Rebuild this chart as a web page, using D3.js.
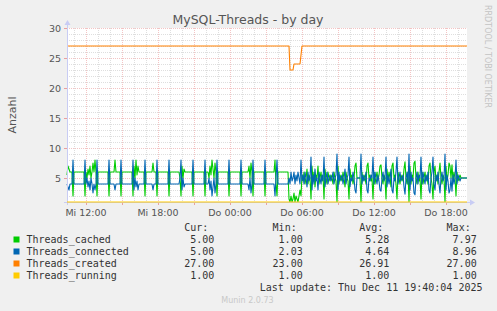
<!DOCTYPE html>
<html lang="en">
<head>
  <meta charset="UTF-8">
  <title>MySQL-Threads - by day</title>
  <script src="https://d3js.org/d3.v7.min.js"></script>
  <style>
    body { margin: 0; background: #f0f0f0; }
    svg { display: block; }
    text { font-family: "DejaVu Sans", sans-serif; }
    .mono { font-family: "DejaVu Sans Mono", monospace; font-size: 10px; fill: #333; }
  </style>
</head>
<body>
<svg width="497" height="311"></svg>
<script>
  // sample step = 5 minutes, step 0 = Mi 10.12. 10:25
  const startTime = new Date(2025, 11, 10, 10, 25)
  const stepCount = 400

  // [step, value] points
  const threadsCached = [
    [0, 5.5], [1, 7], [2, 6.5], [3, 6], [5, 6], [6, 2], [7, 6],
    [17, 6], [18, 2], [19, 6], [20, 5], [21, 6.5], [22, 5.5], [23, 7], [24, 5], [25, 6], [26, 7.5], [27, 6], [28, 8], [29, 6], [30, 2], [31, 6],
    [41, 6], [42, 2], [43, 6], [47, 6], [48, 8], [49, 6], [53, 6], [54, 2], [55, 6],
    [65, 6], [66, 2], [67, 7], [68, 5], [69, 8], [70, 5.5], [71, 7], [72, 6],
    [77, 6], [78, 2], [79, 6], [85, 6], [86, 7.5], [87, 6], [89, 6], [90, 2], [91, 6],
    [101, 6], [102, 2], [103, 6],
    [112, 6], [113, 5], [114, 2], [115, 7], [116, 5], [117, 6.5], [118, 6],
    [125, 6], [126, 2], [127, 6], [137, 6], [138, 2], [139, 6],
    [141, 6], [142, 5], [143, 7], [144, 5.5], [145, 8], [146, 6.5], [147, 5], [148, 7.5], [149, 6], [150, 2], [151, 6],
    [161, 6], [162, 2], [163, 6], [173, 6], [174, 2], [175, 6],
    [181, 6], [182, 7], [183, 5], [184, 7.5], [185, 6], [186, 2], [187, 6],
    [197, 6], [198, 2], [199, 6], [207, 6], [208, 8], [209, 4], [210, 2], [211, 6],
    [221, 6], [222, 1.5], [223, 1], [224, 2], [225, 1], [226, 1.5], [227, 2.5], [228, 1], [229, 2], [230, 1.5], [231, 1], [232, 2], [233, 3],
    [234, 2], [235, 5.5], [236, 4.5], [237, 6], [238, 4], [239, 5], [240, 6.5], [241, 4], [242, 5.5], [243, 5],
    [244, 1.5], [245, 7], [246, 4.5], [247, 6], [248, 3.5], [249, 5.5], [250, 5], [251, 7], [252, 4], [253, 5], [254, 6], [255, 4.5], [256, 5.5],
    [257, 1.5], [258, 6.5], [259, 5], [260, 4], [261, 6], [262, 5], [263, 4.5], [264, 5.5], [265, 5], [266, 4], [267, 6], [268, 5], [269, 4.5],
    [270, 1], [271, 7], [272, 4], [273, 5.5], [274, 5], [275, 4.5], [276, 6], [277, 5], [278, 3.5], [279, 6], [280, 5], [281, 4.5],
    [282, 1.5], [283, 6.5], [284, 5], [285, 5.5], [286, 4], [287, 5], [288, 7], [289, 7.5], [290, 5], [293, 5],
    [294, 1], [295, 6], [296, 4.5], [297, 5.5], [298, 5], [299, 4], [300, 7], [301, 7.5], [302, 5], [303, 5.5], [304, 4.5], [305, 5],
    [306, 1.5], [307, 6], [308, 4], [309, 5], [310, 6], [311, 4.5], [312, 5.5], [313, 7], [314, 7.2], [315, 5], [316, 4], [317, 5.5], [318, 5],
    [319, 1.5], [320, 6.5], [321, 4.5], [322, 6], [323, 5], [324, 3.5], [325, 7], [326, 7.5], [327, 5], [328, 5.5], [329, 4],
    [330, 1.5], [331, 6], [332, 5], [333, 4], [334, 5.5], [335, 5], [336, 4.5], [337, 6.5], [338, 7.7], [339, 5], [340, 4], [341, 6],
    [342, 1], [343, 7], [344, 4], [345, 5.5], [346, 5], [347, 7.5], [348, 7.8], [349, 5], [350, 4], [351, 6], [352, 4.5], [353, 5],
    [354, 1.5], [355, 6], [356, 4], [357, 5], [358, 6], [359, 4.5], [360, 5.5], [361, 4], [362, 7], [363, 7.5], [364, 5], [365, 4],
    [366, 1.5], [367, 6], [368, 7], [369, 4.5], [370, 5.5], [371, 4], [372, 6], [373, 7.5], [374, 5], [375, 4], [376, 5.5], [377, 5],
    [378, 1], [379, 7], [380, 4.5], [381, 5.5], [382, 7.5], [383, 7], [384, 5], [385, 7.2], [386, 4.5], [387, 6], [388, 5],
    [389, 2], [390, 6], [391, 4.5], [392, 5], [393, 5.5], [394, 5], [400, 5]
  ]

  const threadsConnected = [
    [0, 4], [1, 3.5], [2, 3], [3, 4], [5, 4], [6, 8], [7, 4],
    [17, 4], [18, 8], [19, 4], [20, 5], [21, 3.5], [22, 4.5], [23, 3], [24, 5], [25, 4], [26, 2.5], [27, 4], [28, 3], [29, 4], [30, 8], [31, 4],
    [41, 4], [42, 8], [43, 4], [47, 4], [48, 3], [49, 4], [53, 4], [54, 8], [55, 4],
    [65, 4], [66, 8], [67, 3], [68, 5], [69, 3.5], [70, 4.5], [71, 3], [72, 4],
    [77, 4], [78, 8], [79, 4], [85, 4], [86, 3], [87, 4], [89, 4], [90, 8], [91, 4],
    [101, 4], [102, 8], [103, 4],
    [112, 4], [113, 5], [114, 8], [115, 3], [116, 5], [117, 3.5], [118, 4],
    [125, 4], [126, 8], [127, 4], [137, 4], [138, 8], [139, 4],
    [141, 4], [142, 5], [143, 3], [144, 4.5], [145, 2], [146, 3.5], [147, 5], [148, 2.5], [149, 4], [150, 8], [151, 4],
    [161, 4], [162, 8], [163, 4], [173, 4], [174, 8], [175, 4],
    [181, 4], [182, 3], [183, 5], [184, 2.5], [185, 4], [186, 8], [187, 4],
    [197, 4], [198, 8], [199, 4], [207, 4], [208, 2], [209, 5], [210, 8], [211, 4],
    [221, 4], [222, 5], [223, 4], [224, 6], [225, 4.5], [226, 5], [227, 6], [228, 4], [229, 5.5], [230, 4.5], [231, 6], [232, 5], [233, 4],
    [234, 8], [235, 4.5], [236, 5.5], [237, 4], [238, 6], [239, 5], [240, 3.5], [241, 6], [242, 4.5], [243, 5],
    [244, 8.5], [245, 3], [246, 5.5], [247, 4], [248, 6.5], [249, 4.5], [250, 5], [251, 3], [252, 6], [253, 5], [254, 4], [255, 5.5], [256, 4.5],
    [257, 8.5], [258, 3.5], [259, 5], [260, 6], [261, 4], [262, 5], [263, 5.5], [264, 4.5], [265, 5], [266, 6], [267, 4], [268, 5], [269, 5.5],
    [270, 9], [271, 3], [272, 6], [273, 4.5], [274, 5], [275, 5.5], [276, 4], [277, 5], [278, 6.5], [279, 4], [280, 5], [281, 5.5],
    [282, 8.5], [283, 3.5], [284, 5], [285, 4.5], [286, 6], [287, 5], [288, 3], [289, 2.5], [290, 5], [293, 5],
    [294, 9], [295, 4], [296, 5.5], [297, 4.5], [298, 5], [299, 6], [300, 3], [301, 2.5], [302, 5], [303, 4.5], [304, 5.5], [305, 5],
    [306, 8.5], [307, 4], [308, 6], [309, 5], [310, 4], [311, 5.5], [312, 4.5], [313, 3], [314, 2.8], [315, 5], [316, 6], [317, 4.5], [318, 5],
    [319, 8.5], [320, 3.5], [321, 5.5], [322, 4], [323, 5], [324, 6.5], [325, 3], [326, 2.5], [327, 5], [328, 4.5], [329, 6],
    [330, 8.5], [331, 4], [332, 5], [333, 6], [334, 4.5], [335, 5], [336, 5.5], [337, 3.5], [338, 2.3], [339, 5], [340, 6], [341, 4],
    [342, 9], [343, 3], [344, 6], [345, 4.5], [346, 5], [347, 2.5], [348, 2.2], [349, 5], [350, 6], [351, 4], [352, 5.5], [353, 5],
    [354, 8.5], [355, 4], [356, 6], [357, 5], [358, 4], [359, 5.5], [360, 4.5], [361, 6], [362, 3], [363, 2.5], [364, 5], [365, 6],
    [366, 8.5], [367, 4], [368, 3], [369, 5.5], [370, 4.5], [371, 6], [372, 4], [373, 2.5], [374, 5], [375, 6], [376, 4.5], [377, 5],
    [378, 9], [379, 3], [380, 5.5], [381, 4.5], [382, 2.5], [383, 3], [384, 5], [385, 2.8], [386, 5.5], [387, 4], [388, 5],
    [389, 8], [390, 4], [391, 5.5], [392, 5], [393, 4.5], [394, 5], [400, 5]
  ]

  const threadsCreated = [
    [0, 27], [222, 27], [223, 23], [226, 23], [227, 24], [233, 24], [235, 27], [400, 27]
  ]

  const threadsRunning = [[0, 1], [400, 1]]

  const seriesNames = ["Threads_cached", "Threads_connected", "Threads_created", "Threads_running"]
  const seriesColors = ["#00cc00", "#0066b3", "#ff8000", "#ffcc00"]
  const curValues = ["5.00", "5.00", "27.00", "1.00"]
  const minValues = ["1.00", "2.03", "23.00", "1.00"]
  const avgValues = ["5.28", "4.64", "26.91", "1.00"]
  const maxValues = ["7.97", "8.96", "27.00", "1.00"]
  const yTicks = [5, 10, 15, 20, 25, 30]

  const svg = d3.select("svg")
  const plotLeft = 67, plotRight = 467, plotTop = 28, plotBottom = 202

  const stepTime = s => new Date(startTime.getTime() + s * 300000)
  const x = d3.scaleTime().domain([startTime, stepTime(stepCount)]).range([plotLeft, plotRight])
  const y = d3.scaleLinear().domain([1, 30]).range([plotBottom, plotTop])

  // plot background
  svg.append("rect")
    .attr("x", plotLeft).attr("y", plotTop)
    .attr("width", plotRight - plotLeft).attr("height", plotBottom - plotTop)
    .attr("fill", "#fff")

  // grid
  const majorGrid = "#f3c4c4", minorGrid = "#dedede"
  const grid = svg.append("g").attr("shape-rendering", "crispEdges")
  grid.selectAll(".hgrid")
    .data(d3.range(2, 31))
    .join("line")
    .attr("x1", plotLeft).attr("x2", plotRight)
    .attr("y1", d => Math.round(y(d)) + 0.5).attr("y2", d => Math.round(y(d)) + 0.5)
    .attr("stroke", d => d % 5 === 0 ? majorGrid : minorGrid)
    .attr("stroke-dasharray", "1,1")

  const hours = d3.timeHour.range(d3.timeHour.ceil(startTime), stepTime(stepCount))
  grid.selectAll(".vgrid")
    .data(hours)
    .join("line")
    .attr("y1", plotTop).attr("y2", plotBottom)
    .attr("x1", d => Math.round(x(d)) + 0.5).attr("x2", d => Math.round(x(d)) + 0.5)
    .attr("stroke", d => d.getHours() % 3 === 0 ? majorGrid : minorGrid)
    .attr("stroke-dasharray", "1,1")

  // major ticks
  grid.selectAll(".xtick")
    .data(hours.filter(d => d.getHours() % 3 === 0))
    .join("line")
    .attr("x1", d => Math.round(x(d)) + 0.5).attr("x2", d => Math.round(x(d)) + 0.5)
    .attr("y1", plotBottom).attr("y2", plotBottom + 3)
    .attr("stroke", "#e8a0a0")
  grid.selectAll(".ytick")
    .data(yTicks)
    .join("line")
    .attr("x1", plotLeft - 3).attr("x2", plotLeft)
    .attr("y1", d => Math.round(y(d)) + 0.5).attr("y2", d => Math.round(y(d)) + 0.5)
    .attr("stroke", "#e8a0a0")

  // axis labels
  svg.append("g")
    .selectAll("text")
    .data(yTicks)
    .join("text")
    .attr("x", plotLeft - 6)
    .attr("y", d => y(d) + 3.5)
    .attr("text-anchor", "end")
    .attr("font-size", "9.5px")
    .attr("fill", "#555")
    .text(d => d)

  const dayName = d => d.getDate() === 10 ? "Mi" : "Do"
  svg.append("g")
    .selectAll("text")
    .data(hours.filter(d => d.getHours() % 6 === 0))
    .join("text")
    .attr("x", d => x(d))
    .attr("y", 216)
    .attr("text-anchor", "middle")
    .attr("font-size", "9.5px")
    .attr("fill", "#555")
    .text(d => dayName(d) + " " + d3.timeFormat("%H:%M")(d))

  // series
  const line = d3.line()
    .x(d => x(stepTime(d[0])))
    .y(d => y(d[1]))
  const allSeries = [threadsCached, threadsConnected, threadsCreated]
  svg.append("g")
    .selectAll("path")
    .data(allSeries)
    .join("path")
    .attr("d", line)
    .attr("fill", "none")
    .attr("stroke", (d, i) => seriesColors[i])
    .attr("stroke-width", 1.1)
    .attr("stroke-linejoin", "round")

  // axes
  const axisColor = "#c8ccf4"
  svg.append("line")
    .attr("x1", plotLeft + 0.5).attr("x2", plotLeft + 0.5)
    .attr("y1", plotTop - 4).attr("y2", plotBottom + 3)
    .attr("stroke", axisColor)
  svg.append("line")
    .attr("x1", plotLeft - 3).attr("x2", plotRight + 4)
    .attr("y1", plotBottom + 0.5).attr("y2", plotBottom + 0.5)
    .attr("stroke", axisColor)
  svg.append("path")
    .attr("d", `M${plotLeft - 2.5},${plotTop - 3}L${plotLeft + 0.5},${plotTop - 8}L${plotLeft + 3.5},${plotTop - 3}Z`)
    .attr("fill", axisColor)
  svg.append("path")
    .attr("d", `M${plotRight + 3},${plotBottom - 2.5}L${plotRight + 8},${plotBottom + 0.5}L${plotRight + 3},${plotBottom + 3.5}Z`)
    .attr("fill", axisColor)

  // running is drawn on top of the axis
  svg.append("path")
    .datum(threadsRunning)
    .attr("d", line)
    .attr("fill", "none")
    .attr("stroke", seriesColors[3])
    .attr("stroke-width", 1.2)

  // title and side texts
  svg.append("text")
    .attr("x", 248).attr("y", 24)
    .attr("text-anchor", "middle")
    .attr("font-size", "12.5px")
    .attr("fill", "#555")
    .text("MySQL-Threads - by day")

  svg.append("text")
    .attr("transform", "translate(16,115) rotate(-90)")
    .attr("text-anchor", "middle")
    .attr("font-size", "11px")
    .attr("fill", "#555")
    .text("Anzahl")

  svg.append("text")
    .attr("transform", "translate(485,5) rotate(90)")
    .attr("font-size", "8px")
    .attr("fill", "#c4c4c4")
    .text("RRDTOOL / TOBI OETIKER")

  svg.append("text")
    .attr("x", 247.5).attr("y", 303)
    .attr("text-anchor", "middle")
    .attr("font-size", "8px")
    .attr("fill", "#c8c8c8")
    .text("Munin 2.0.73")

  // legend
  const legend = svg.append("g")
  const colEnds = [214.3, 302.7, 389.3, 476.7]
  const headers = ["Cur:", "Min:", "Avg:", "Max:"]
  legend.selectAll(".hdr")
    .data(headers)
    .join("text")
    .attr("class", "mono")
    .attr("x", (d, i) => colEnds[i] - 6)
    .attr("y", 231)
    .attr("text-anchor", "end")
    .text(d => d)

  const rows = legend.selectAll(".row")
    .data(seriesNames)
    .join("g")
    .attr("transform", (d, i) => `translate(0,${243 + i * 12})`)
  rows.append("rect")
    .attr("x", 13.5).attr("y", -6.5)
    .attr("width", 6).attr("height", 6)
    .attr("fill", (d, i) => seriesColors[i])
  rows.append("text")
    .attr("class", "mono")
    .attr("x", 26.5)
    .text(d => d)
  const cols = [curValues, minValues, avgValues, maxValues]
  cols.forEach((vals, c) => {
    rows.append("text")
      .attr("class", "mono")
      .attr("x", colEnds[c])
      .attr("text-anchor", "end")
      .text((d, i) => vals[i])
  })

  legend.append("text")
    .attr("class", "mono")
    .attr("x", 482.5).attr("y", 291)
    .attr("text-anchor", "end")
    .text("Last update: Thu Dec 11 19:40:04 2025")
</script>
</body>
</html>
